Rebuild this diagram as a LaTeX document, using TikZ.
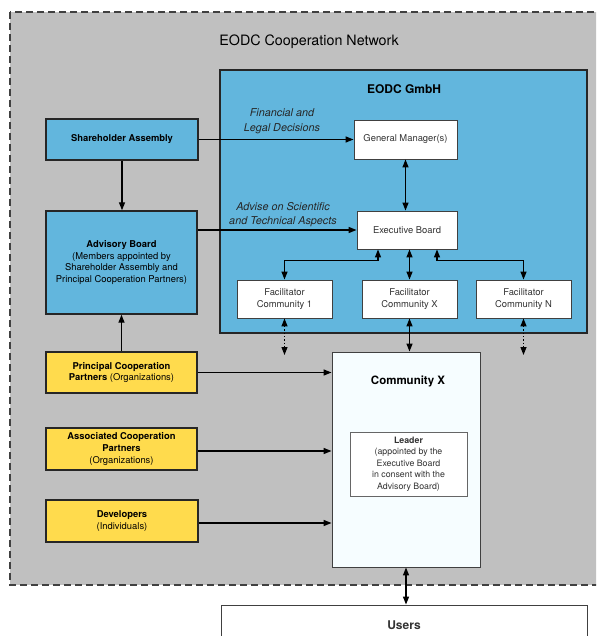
\documentclass[tikz,border=0pt]{standalone}
\usepackage{fontspec}
\setmainfont{TeX Gyre Heros}
\usetikzlibrary{arrows.meta,positioning}

\definecolor{netgray}{HTML}{C0C0C0}
\definecolor{gmbhblue}{HTML}{62B6DD}
\definecolor{partneryellow}{HTML}{FFDB4D}
\definecolor{commfill}{HTML}{F6FDFF}
\definecolor{edgegray}{HTML}{404040}

\begin{document}
\begin{tikzpicture}[
            x=1pt, y=-1pt,
            box/.style={rectangle, draw=black!85, line width=1.4pt, align=center, inner sep=1pt, font=\fontsize{9.4}{11.7}\selectfont},
            bluebox/.style={box, fill=gmbhblue},
            yellowbox/.style={box, fill=partneryellow},
            whitebox/.style={rectangle, draw=edgegray, line width=0.9pt, fill=white, align=center, inner sep=1pt, text=black!80, font=\fontsize{9.4}{12}\selectfont},
            heading/.style={font=\fontsize{12}{14}\selectfont\bfseries},
            note/.style={align=center, text=black!85, font=\fontsize{10.8}{14.5}\selectfont\itshape},
            arrow/.style={-{Triangle[length=8pt,width=6pt]}, line width=1.3pt},
            biarrow/.style={{Triangle[length=8pt,width=6pt]}-{Triangle[length=8pt,width=6pt]}, line width=1.3pt},
            dotarrow/.style={biarrow, dotted}
        ]
        \clip (0,0) rectangle (596,636);

        % Network area
        \draw[fill=netgray, draw=edgegray, line width=1.3pt, dash pattern=on 7pt off 4pt] (10,12) rectangle (620,585);
        \node[font=\fontsize{14.3}{16}\selectfont] (network) at (309,42) {EODC Cooperation Network};

        % EODC GmbH
        \node[bluebox, minimum width=367pt, minimum height=263pt] (gmbh) at (403.5,201.5) {};
        \node[heading] (gmbhtitle) at (404,89) {EODC GmbH};
        \node[whitebox, minimum width=103pt, minimum height=39pt] (gm) at (405.5,139.5) {General Manager(s)};
        \node[whitebox, minimum width=100pt, minimum height=38pt] (exec) at (407,230) {Executive Board};
        \node[whitebox, minimum width=95pt, minimum height=38pt] (fac1) at (284.5,299) {Facilitator\\Community 1};
        \node[whitebox, minimum width=95pt, minimum height=38pt] (facx) at (409.5,299) {Facilitator\\Community X};
        \node[whitebox, minimum width=95pt, minimum height=38pt] (facn) at (523.5,299) {Facilitator\\Community N};

        % Bodies on the left
        \node[bluebox, minimum width=152pt, minimum height=41pt] (share) at (122,139.5) {\textbf{Shareholder Assembly}};
        \node[bluebox, minimum width=151pt, minimum height=103pt] (advisory) at (121.5,262.5) {\textbf{Advisory Board}\\(Members appointed by\\Shareholder Assembly and\\Principal Cooperation Partners)};
        \node[yellowbox, minimum width=151pt, minimum height=41pt] (principal) at (121.5,372.5) {\textbf{Principal Cooperation}\\\textbf{Partners} (Organizations)};
        \node[yellowbox, minimum width=151pt, minimum height=42pt] (associated) at (121.5,449) {\textbf{Associated Cooperation}\\\textbf{Partners}\\(Organizations)};
        \node[yellowbox, minimum width=152pt, minimum height=42pt] (developers) at (122,521) {\textbf{Developers}\\(Individuals)};

        % Community X and users
        \node[whitebox, fill=commfill, minimum width=148pt, minimum height=215pt] (commx) at (406,459.5) {};
        \node[heading, font=\fontsize{11.5}{14}\selectfont\bfseries] (commxtitle) at (408,381) {Community X};
        \node[whitebox, draw=edgegray!80, minimum width=117pt, minimum height=64pt, font=\fontsize{8.8}{11.5}\selectfont] (leader) at (408.5,464) {\textbf{Leader}\\(appointed by the\\Executive Board\\in consent with the\\Advisory Board)};
        \node[whitebox, minimum width=366pt, minimum height=40pt, heading] (users) at (404,625) {Users};

        % Free ends of dotted links
        \coordinate (fac1end) at (284.5,355);
        \coordinate (facnend) at (523.5,355);

        % Decisions and advice
        \draw[arrow] (share) -- (gm);
        \node[note] (finlabel) at (282,121) {Financial and\\Legal Decisions};
        \draw[arrow] (advisory.east |- exec) -- (exec);
        \node[note] (advlabel) at (283,214.5) {Advise on Scientific\\and Technical Aspects};
        \draw[arrow] (share.south) -- (share.south |- advisory.north);
        \draw[arrow] (principal.north) -- (principal.north |- advisory.south);

        % Inside EODC GmbH
        \draw[biarrow] (gm.south) -- (gm.south |- exec.north);
        \draw[biarrow] ([xshift=-29pt]exec.south) -- ++(0,11) -| (fac1.north);
        \draw[biarrow] (facx.north |- exec.south) -- (facx.north);
        \draw[biarrow] ([xshift=30pt]exec.south) -- ++(0,11) -| (facn.north);

        % Facilitators to communities
        \draw[biarrow] (facx.south) -- (facx.south |- commx.north);
        \draw[dotarrow] (fac1.south) -- (fac1end);
        \draw[dotarrow] (facn.south) -- (facnend);

        % Partners to Community X
        \draw[arrow] (principal) -- (principal -| commx.west);
        \draw[arrow] (associated.east) ++(0,2) -- (commx.west |- 0,451);
        \draw[arrow] (developers.east) ++(0,2) -- (commx.west |- 0,523);

        % Community X to users
        \draw[biarrow] (commx.south) -- (commx.south |- users.north);

    \end{tikzpicture}
\end{document}
